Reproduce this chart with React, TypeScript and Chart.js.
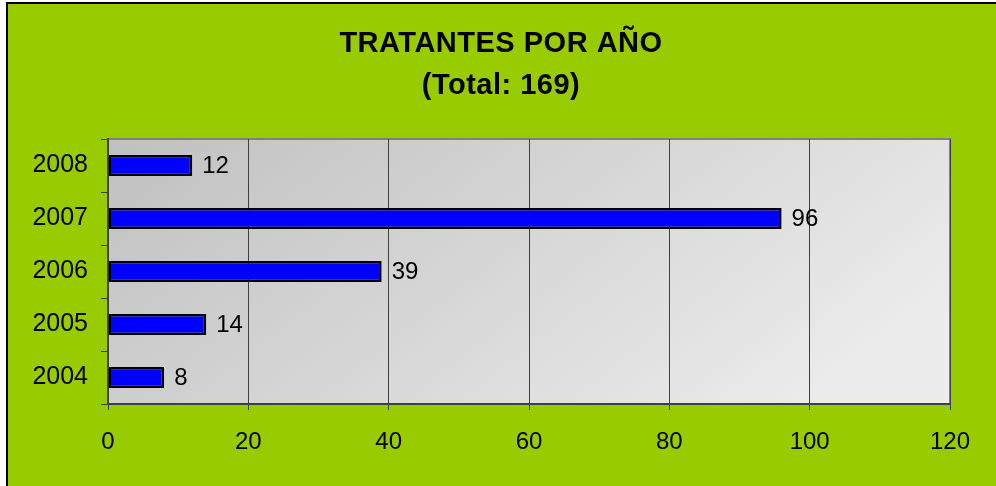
import React, { useEffect, useRef } from "react";
import { Chart, registerables } from "chart.js";

Chart.register(...registerables);

const categories = ["2008", "2007", "2006", "2005", "2004"];
const values = [12, 96, 39, 14, 8];
const titleLines = ["TRATANTES POR AÑO", "(Total: 169)"];
const xMin = 0;
const xMax = 120;
const xStep = 20;

const FONT = "'Liberation Sans', Arial, sans-serif";

const backgroundPlugin = {
  id: "bgPlugin",
  beforeDraw(chart: any) {
    const { ctx, width, height, chartArea } = chart;
    ctx.save();
    ctx.fillStyle = "#ffffff";
    ctx.fillRect(0, 0, width, height);
    ctx.fillStyle = "#99cc00";
    ctx.fillRect(7, 3, width - 7, height - 3);
    ctx.strokeStyle = "#000000";
    ctx.lineWidth = 2;
    ctx.beginPath();
    ctx.moveTo(7, height);
    ctx.lineTo(7, 3);
    ctx.lineTo(width, 3);
    ctx.stroke();
    const { left, top, right, bottom } = chartArea;
    const g = ctx.createLinearGradient(left, top, left + 400, bottom + 250);
    g.addColorStop(0, "#c0c0c0");
    g.addColorStop(1, "#ececec");
    ctx.fillStyle = g;
    ctx.fillRect(left, top, right - left, bottom - top);
    ctx.strokeStyle = "#808080";
    ctx.lineWidth = 2;
    ctx.beginPath();
    ctx.moveTo(left, top);
    ctx.lineTo(right, top);
    ctx.lineTo(right, bottom);
    ctx.stroke();

    // title
    ctx.fillStyle = "#000000";
    ctx.font = `bold 29px ${FONT}`;
    ctx.textAlign = "center";
    ctx.textBaseline = "middle";
    try {
      (ctx as any).letterSpacing = "0.5px";
    } catch (e) {}
    ctx.fillText(titleLines[0], 501, 44);
    ctx.fillText(titleLines[1], 501, 86);
    try {
      (ctx as any).letterSpacing = "0px";
    } catch (e) {}
    ctx.restore();
  },
};

const labelPlugin = {
  id: "valueLabels",
  afterDatasetsDraw(chart: any) {
    const { ctx } = chart;
    const meta = chart.getDatasetMeta(0);
    ctx.save();
    ctx.fillStyle = "#000000";
    ctx.font = `24px ${FONT}`;
    ctx.textAlign = "left";
    ctx.textBaseline = "middle";
    meta.data.forEach((bar: any, i: number) => {
      ctx.fillText(String(values[i]), bar.x + 10, bar.y + 1);
    });
    ctx.restore();
  },
};

export default function App() {
  const ref = useRef<HTMLCanvasElement>(null);
  useEffect(() => {
    if (!ref.current) return;
    const chart = new Chart(ref.current, {
      type: "bar",
      data: {
        labels: categories,
        datasets: [
          {
            data: values,
            backgroundColor: "#0000ff",
            borderColor: "#000000",
            borderWidth: 2.5,
            borderSkipped: false,
            categoryPercentage: 1,
            barPercentage: 0.4,
          },
        ],
      },
      options: {
        indexAxis: "y",
        responsive: false,
        animation: false,
        layout: { padding: { top: 139, right: 46, bottom: 0, left: 0 } },
        plugins: {
          legend: { display: false },
          tooltip: { enabled: false },
          title: { display: false },
        },
        scales: {
          x: {
            type: "linear",
            min: xMin,
            max: xMax,
            ticks: {
              stepSize: xStep,
              color: "#000000",
              font: { family: FONT, size: 24 },
              padding: 18,
              maxRotation: 0,
            },
            grid: {
              color: "#404040",
              lineWidth: 1,
              tickLength: 6,
              drawOnChartArea: true,
            },
            border: { display: true, color: "#404040", width: 2 },
            afterFit(scale: any) {
              scale.height = 82;
            },
          },
          y: {
            type: "category",
            ticks: {
              color: "#000000",
              font: { family: FONT, size: 25 },
              padding: 13,
            },
            grid: {
              offset: true,
              color: "#404040",
              drawOnChartArea: false,
              tickLength: 7,
            },
            border: { display: true, color: "#404040", width: 2 },
            afterFit(scale: any) {
              scale.width = 108;
            },
          },
        },
      },
      plugins: [backgroundPlugin, labelPlugin],
    });
    return () => chart.destroy();
  }, []);
  return (
    <div style={{ position: "absolute", left: 0, top: 0, width: 996, height: 486 }}>
      <canvas ref={ref} width={996} height={486} />
    </div>
  );
}
